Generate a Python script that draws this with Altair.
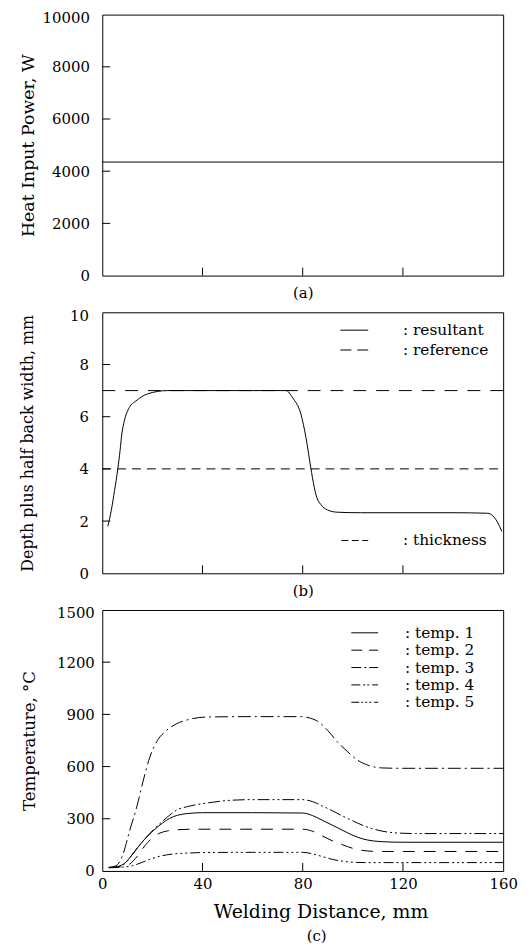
import altair as alt
import pandas as pd

FONT = "DejaVu Serif"
INK = "#000000"

# ---------------- data ----------------
x_domain = [0, 160]
x_inner_ticks = [40, 80, 120]
x_labels_c = [0, 40, 80, 120, 160]

# (a) heat input power
power_dist = [0, 160]
power_w = [4350, 4350]
power_ticks = [0, 2000, 4000, 6000, 8000, 10000]
power_inner_ticks = [2000, 4000, 6000, 8000]

# (b) depth plus half back width
res_dist = [2.2, 3.6, 4.9, 6.2, 7.1, 7.8, 8.8, 10.8, 13.4, 18.0, 26.0, 40.0, 60.0,
            73.4, 76.0, 79.3, 81.3, 83.2, 84.6, 85.6, 87.2, 89.8, 93.8, 103.0,
            120.0, 140.0, 153.7, 156.4, 157.7, 159.5]
res_depth = [1.8, 2.41, 3.17, 4.0, 4.7, 5.33, 5.84, 6.35, 6.6, 6.87, 7.0, 7.0, 7.0,
             7.0, 6.72, 6.09, 5.2, 4.06, 3.3, 2.91, 2.64, 2.43, 2.34, 2.32,
             2.32, 2.32, 2.3, 2.15, 1.96, 1.6]
ref_dist = [0, 160]
ref_depth = [7.0, 7.0]
thick_dist = [0, 160]
thick_depth = [4.0, 4.0]
depth_ticks = [0, 2, 4, 6, 8, 10]
depth_inner_ticks = [2, 4, 6, 8]
legend_b_top = [": resultant", ": reference"]
legend_b_bottom = [": thickness"]

# (c) temperatures
t1_dist = [2.6, 6, 9, 12, 15, 18, 21, 24, 27, 30, 34, 40, 60, 80, 84, 88, 92, 96, 100, 104, 108, 112, 120, 140, 160]
t1_temp = [20, 25, 45, 95, 150, 200, 240, 275, 303, 320, 330, 335, 335, 333, 318, 290, 262, 233, 205, 184, 173, 168, 165, 165, 165]

t2_dist = [2.6, 8, 11, 14, 17, 20, 23, 26, 30, 36, 60, 80, 84, 88, 92, 96, 100, 104, 108, 114, 130, 160]
t2_temp = [20, 24, 40, 85, 145, 190, 218, 230, 237, 240, 240, 240, 228, 200, 172, 150, 130, 118, 113, 112, 112, 112]

t3_dist = [2.6, 5.5, 8, 11, 13.8, 16.4, 19, 22, 25, 29.5, 35, 42, 60, 80, 83, 86, 90, 94, 98, 102, 106, 112, 120, 140, 160]
t3_temp = [20, 30, 85, 235, 370, 522, 655, 750, 800, 845, 872, 885, 887, 887, 878, 860, 807, 740, 684, 636, 608, 592, 590, 590, 590]

t4_dist = [2.6, 6, 9, 12, 15, 18, 21, 24, 27, 30, 34, 38, 44, 50, 60, 80, 84, 88, 92, 96, 100, 104, 108, 112, 118, 125, 160]
t4_temp = [20, 24, 42, 95, 150, 200, 245, 285, 322, 352, 370, 382, 395, 405, 410, 410, 398, 372, 345, 315, 288, 262, 242, 228, 218, 215, 215]

t5_dist = [2.6, 8, 12, 16, 20, 24, 28, 34, 42, 60, 80, 84, 88, 92, 96, 100, 106, 130, 160]
t5_temp = [18, 22, 30, 50, 72, 88, 97, 103, 106, 107, 107, 98, 82, 66, 56, 50, 48, 48, 48]

temp_ticks = [0, 300, 600, 900, 1200, 1500]
temp_inner_ticks = [300, 600, 900, 1200]
legend_c = [": temp. 1", ": temp. 2", ": temp. 3", ": temp. 4", ": temp. 5"]

# ---------------- layout / styles ----------------
W = 404
HA, HB, HC = 263, 263, 263
TICK_LEN = 8

DASH_T2 = [12, 9]
DASH_T3 = [13, 4, 2, 4]
DASH_T4 = [12, 3, 2, 3, 2, 3]
DASH_T5 = [10, 3, 2, 3, 2, 3, 2, 3]
DASH_REF = [13, 10]
DASH_THICK = [9, 6]


def x_enc(title, show_labels, title_size=15, title_pad=10, title_x=None):
    ax = dict(
        ticks=False, domain=False, grid=False, title=title,
        titleFontSize=title_size, titlePadding=title_pad,
    )
    if show_labels:
        ax.update(values=x_labels_c, format="d", labelFontSize=15, labelPadding=6, labelFlush=False)
    else:
        ax.update(labels=False)
    if title_x is not None:
        ax.update(titleX=title_x)
    return alt.X("x:Q", scale=alt.Scale(domain=x_domain, nice=False, zero=False),
                 axis=alt.Axis(**ax))


def y_enc(domain, values, title, title_size, title_x, label_pad, top_value):
    return alt.Y(
        "y:Q",
        scale=alt.Scale(domain=domain, nice=False, zero=False),
        axis=alt.Axis(
            values=values, format="d", ticks=False, domain=False, grid=False,
            labelFontSize=15, labelPadding=label_pad,
            labelOffset={"condition": {"test": f"datum.value == {top_value}", "value": 3}, "value": 0},
            title=title, titleFontSize=title_size, titleX=title_x,
        ),
    )


def tick_layers(X, Y, x_ticks, y_ticks, H):
    xt = alt.Chart(pd.DataFrame({"x": x_ticks})).mark_rule(color=INK, strokeWidth=1).encode(
        x=X, y=alt.value(H), y2=alt.value(H - TICK_LEN))
    yt = alt.Chart(pd.DataFrame({"y": y_ticks})).mark_rule(color=INK, strokeWidth=1).encode(
        y=Y, x=alt.value(0), x2=alt.value(TICK_LEN))
    return [xt, yt]


def line(xs, ys, X, Y, dash=None):
    kw = dict(color=INK, strokeWidth=1, interpolate="monotone")
    if dash:
        kw["strokeDash"] = dash
    return alt.Chart(pd.DataFrame({"x": xs, "y": ys})).mark_line(**kw).encode(x=X, y=Y)


def legend_row(label, x0, x1, tx, y, dash=None):
    rkw = dict(color=INK, strokeWidth=1)
    if dash:
        rkw["strokeDash"] = dash
    r = alt.Chart().mark_rule(**rkw).encode(x=alt.value(x0), x2=alt.value(x1), y=alt.value(y))
    t = alt.Chart().mark_text(font=FONT, fontSize=15.5, align="left", baseline="middle", color=INK).encode(
        x=alt.value(tx), y=alt.value(y), text=alt.value(label))
    return [r, t]


# ---------------- panel (a) ----------------
Xa = x_enc("(a)", False)
Ya = y_enc([0, 10000], power_ticks, "Heat Input Power, W", 17.5, -65, 13, 10000)
panel_a = alt.layer(
    line(power_dist, power_w, Xa, Ya),
    *tick_layers(Xa, Ya, x_inner_ticks, power_inner_ticks, HA),
).properties(width=W, height=HA)

# ---------------- panel (b) ----------------
Xb = x_enc("(b)", False)
Yb = y_enc([0, 10], depth_ticks, "Depth plus half back width, mm", 16, -67, 14, 10)
b_layers = [
    line(res_dist, res_depth, Xb, Yb),
    line(ref_dist, ref_depth, Xb, Yb, DASH_REF),
    line(thick_dist, thick_depth, Xb, Yb, DASH_THICK),
    *tick_layers(Xb, Yb, x_inner_ticks, depth_inner_ticks, HB),
]
b_layers += legend_row(legend_b_top[0], 240, 268, 303, 18)
b_layers += legend_row(legend_b_top[1], 240, 268, 303, 38, [11, 6])
b_layers += legend_row(legend_b_bottom[0], 241, 268, 303, 230, [7, 3.5])
panel_b = alt.layer(*b_layers).properties(width=W, height=HB)

# ---------------- panel (c) ----------------
Xc = x_enc("Welding Distance, mm", True, title_size=19, title_pad=11, title_x=W / 2 + 18)
Yc = y_enc([0, 1500], temp_ticks, "Temperature, °C", 16.7, -64, 8, 1500)
c_layers = [
    line(t1_dist, t1_temp, Xc, Yc),
    line(t2_dist, t2_temp, Xc, Yc, DASH_T2),
    line(t3_dist, t3_temp, Xc, Yc, DASH_T3),
    line(t4_dist, t4_temp, Xc, Yc, DASH_T4),
    line(t5_dist, t5_temp, Xc, Yc, DASH_T5),
    *tick_layers(Xc, Yc, x_inner_ticks, temp_inner_ticks, HC),
]
c_dashes = [None, [11, 7], [10, 3, 2, 3], [9, 3, 2, 2, 2, 3], [8, 2, 2, 2, 2, 2, 2, 3]]
for i, (lab, d) in enumerate(zip(legend_c, c_dashes)):
    c_layers += legend_row(lab, 251, 278, 305, 23 + 17.5 * i, d)
c_layers.append(
    alt.Chart().mark_text(font=FONT, fontSize=15, align="center", baseline="middle", color=INK).encode(
        x=alt.value(W / 2 + 14), y=alt.value(HC + 66), text=alt.value("(c)"))
)
panel_c = alt.layer(*c_layers).properties(width=W, height=HC)

chart = (
    alt.vconcat(panel_a, panel_b, panel_c, spacing=37, bounds="flush")
    .properties(padding={"left": 11, "top": -2, "right": 5, "bottom": 2})
    .configure_axis(labelFont=FONT, titleFont=FONT, labelColor=INK, titleColor=INK,
                    titleFontWeight="normal")
    .configure_view(stroke=INK, strokeWidth=1)
)

chart.save("out.html", embed_options={"renderer": "svg", "actions": False})
